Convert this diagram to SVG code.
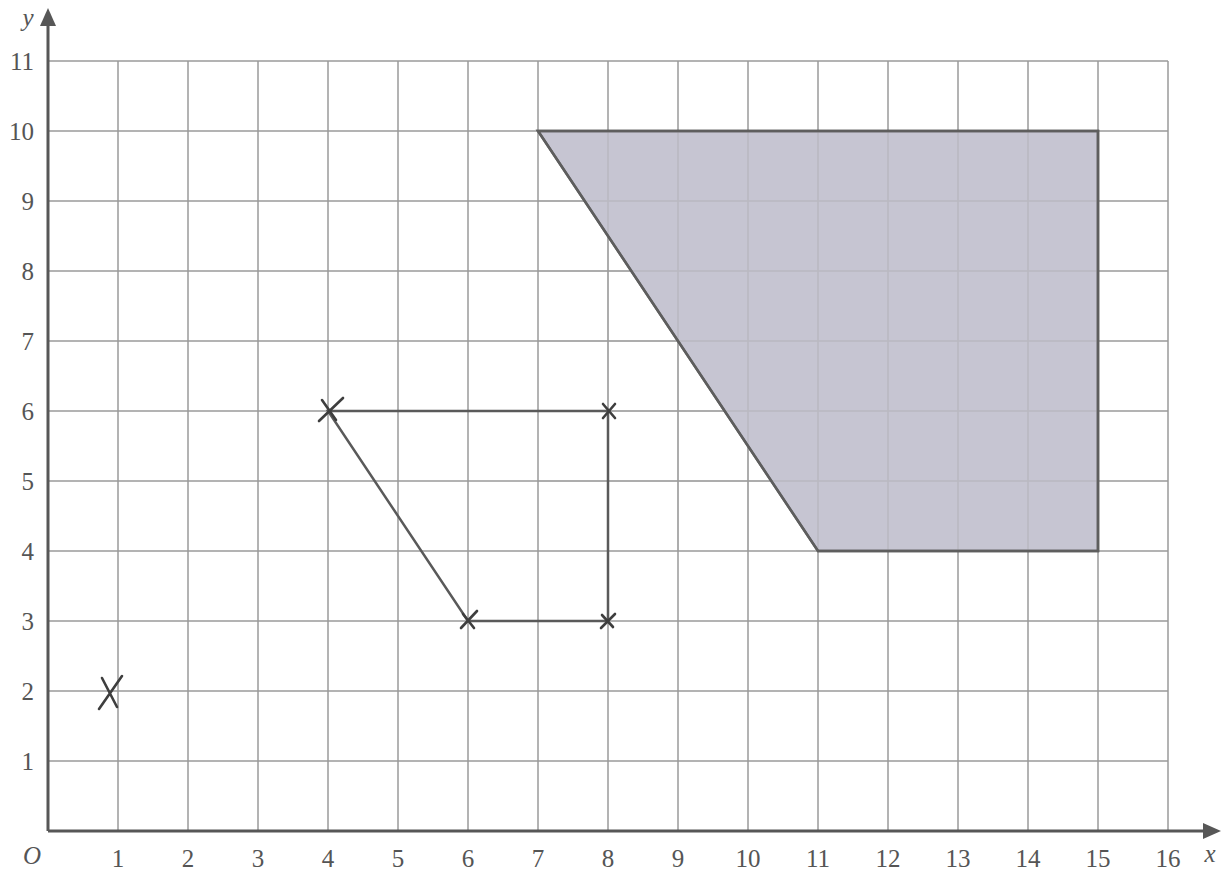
<svg xmlns="http://www.w3.org/2000/svg" width="1229" height="874" viewBox="0 0 1229 874">
<style>
.grid{stroke:#9a9a9a;stroke-width:1.5;fill:none}
.axis{stroke:#575757;stroke-width:3;fill:none}
.lbl{font-family:'Liberation Serif','DejaVu Serif','Times New Roman',serif;font-size:25px;fill:#555555}
.it{font-style:italic}
.shape{stroke:#5a5a5a;stroke-width:2.5;fill:none}
.cross{stroke:#3e3e3e;stroke-width:2.6;stroke-linecap:round}
</style>
<rect width="1229" height="874" fill="#ffffff"/>
<g id="grid">
<path class="grid" d="M118 61V831M188 61V831M258 61V831M328 61V831M398 61V831M468 61V831M538 61V831M608 61V831M678 61V831M748 61V831M818 61V831M888 61V831M958 61V831M1028 61V831M1098 61V831M1168 61V831"/>
<path class="grid" d="M48 61H1168M48 131H1168M48 201H1168M48 271H1168M48 341H1168M48 411H1168M48 481H1168M48 551H1168M48 621H1168M48 691H1168M48 761H1168"/>
</g>
<g id="shaded-region">
<polygon points="538,131 1098,131 1098,551 818,551" fill="#c6c5d2" stroke="#5e5e5e" stroke-width="2.5"/>
<path class="grid" d="M608 131V551M678 131V551M748 131V551M818 131V551M888 131V551M958 131V551M1028 131V551M538 201H1098M538 271H1098M538 341H1098M538 411H1098M538 481H1098" stroke-opacity="0.3"/>
<polygon points="538,131 1098,131 1098,551 818,551" fill="none" stroke="#5e5e5e" stroke-width="2.5"/>
</g>
<g id="axes">
<path class="axis" d="M48 831H1205"/>
<path class="axis" d="M48 831V24"/>
<polygon points="1221,831 1203,823 1203,839" fill="#575757"/>
<polygon points="48,8 40,26 56,26" fill="#575757"/>
</g>
<g id="quadrilateral">
<polygon class="shape" points="328,411 608,411 608,621 468,621"/>
</g>
<g id="crosses">
<path class="cross" d="M319 421L343 398M322 400L336 420" stroke-width="3"/>
<path class="cross" d="M603 404L615 418M615 404L603 418"/>
<path class="cross" d="M461 628L477 611M463 614L474 628"/>
<path class="cross" d="M601 628L615 614M602 615L613 627"/>
<path class="cross" d="M99 709L122 676M102 678L117 707" stroke-width="3"/>
</g>
<g id="labels">
<text class="lbl" x="34" y="70" text-anchor="end">11</text>
<text class="lbl" x="34" y="140" text-anchor="end">10</text>
<text class="lbl" x="34" y="210" text-anchor="end">9</text>
<text class="lbl" x="34" y="280" text-anchor="end">8</text>
<text class="lbl" x="34" y="350" text-anchor="end">7</text>
<text class="lbl" x="34" y="420" text-anchor="end">6</text>
<text class="lbl" x="34" y="490" text-anchor="end">5</text>
<text class="lbl" x="34" y="560" text-anchor="end">4</text>
<text class="lbl" x="34" y="630" text-anchor="end">3</text>
<text class="lbl" x="34" y="700" text-anchor="end">2</text>
<text class="lbl" x="34" y="770" text-anchor="end">1</text>
<text class="lbl it" x="32" y="864" text-anchor="middle">O</text>
<text class="lbl" x="118" y="867" text-anchor="middle">1</text>
<text class="lbl" x="188" y="867" text-anchor="middle">2</text>
<text class="lbl" x="258" y="867" text-anchor="middle">3</text>
<text class="lbl" x="328" y="867" text-anchor="middle">4</text>
<text class="lbl" x="398" y="867" text-anchor="middle">5</text>
<text class="lbl" x="468" y="867" text-anchor="middle">6</text>
<text class="lbl" x="538" y="867" text-anchor="middle">7</text>
<text class="lbl" x="608" y="867" text-anchor="middle">8</text>
<text class="lbl" x="678" y="867" text-anchor="middle">9</text>
<text class="lbl" x="748" y="867" text-anchor="middle">10</text>
<text class="lbl" x="818" y="867" text-anchor="middle">11</text>
<text class="lbl" x="888" y="867" text-anchor="middle">12</text>
<text class="lbl" x="958" y="867" text-anchor="middle">13</text>
<text class="lbl" x="1028" y="867" text-anchor="middle">14</text>
<text class="lbl" x="1098" y="867" text-anchor="middle">15</text>
<text class="lbl" x="1168" y="867" text-anchor="middle">16</text>
<text class="lbl it" x="1210" y="862" text-anchor="middle">x</text>
<text class="lbl it" x="28" y="26" text-anchor="middle">y</text>
</g>
</svg>
